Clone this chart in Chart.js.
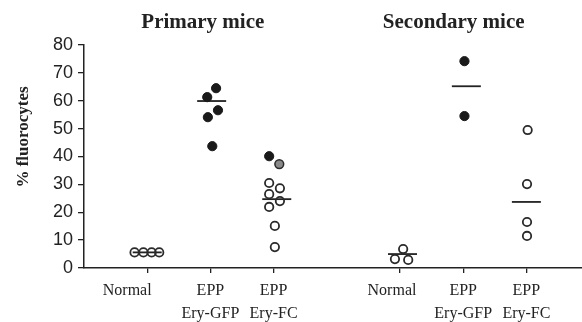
<!DOCTYPE html>
<html>
<head>
<meta charset="utf-8">
<script src="https://cdn.jsdelivr.net/npm/chart.js@4/dist/chart.umd.min.js"></script>
<style>
  html, body { margin:0; padding:0; background:#fff; }
  #wrap { width:582px; height:322px; position:relative; }
</style>
</head>
<body>
<div id="wrap"><canvas id="c"></canvas></div>
<script>
// ── Data (x in axis units: groups at 1,2,3 and 5,6,7) ─────────
const tickPos    = [1, 2, 3, 5, 6, 7];
const tickLabels = [['Normal'], ['EPP', 'Ery-GFP'], ['EPP', 'Ery-FC'],
                    ['Normal'], ['EPP', 'Ery-GFP'], ['EPP', 'Ery-FC']];
const panelTitles = ['Primary mice', 'Secondary mice'];
const panelCenter = [1.88, 5.85];

const filledX = [1.95, 2.09, 2.12, 1.96, 2.03, 2.93, 6.02, 6.02];
const filledY = [61.3, 64.5, 56.6, 54.1, 43.7, 40.1, 74.2, 54.5];

const grayX = [3.09];
const grayY = [37.3];

const openX = [0.80, 0.94, 1.07, 1.19,
               2.93, 3.10, 2.93, 3.10, 2.93, 3.02, 3.02,
               5.05, 4.92, 5.13,
               7.02, 7.01, 7.01, 7.01];
const openY = [5.6, 5.6, 5.6, 5.6,
               30.5, 28.6, 26.5, 24.0, 21.9, 15.1, 7.5,
               6.8, 3.2, 2.9,
               49.5, 30.1, 16.5, 11.5];

const meanX = [1.0, 2.02, 3.05, 5.04, 6.05, 7.0];
const meanY = [5.6, 59.9, 24.7, 5.0, 65.2, 23.7];

// label nudges in px (the figure's labels are not quite centred on ticks)
const labelNudge = [-20, 0, 0, -8, 0, 0];

const pts = (xs, ys) => xs.map((x, i) => ({ x, y: ys[i] }));

// ── Titles / y label drawn by hand, x labels nudged ──────────
const labelsPlugin = {
  id: 'labels',
  beforeDraw(chart) {
    const x = chart.scales.x;
    x.getLabelItems().forEach((it, i) => {
      if (it._nudged) return;
      it.options.translation[0] += labelNudge[i] || 0;
      it._nudged = true;
    });
  },
  afterDraw(chart) {
    const { ctx, scales: { x } } = chart;
    ctx.save();
    ctx.fillStyle = '#222';
    ctx.textAlign = 'center';
    ctx.textBaseline = 'middle';
    ctx.font = 'bold 21px "Liberation Serif", serif';
    panelTitles.forEach((t, i) => ctx.fillText(t, x.getPixelForValue(panelCenter[i]), 23));
    ctx.translate(24, 137);
    ctx.rotate(-Math.PI / 2);
    ctx.font = 'bold 17px "Liberation Serif", serif';
    ctx.fillText('% fluorocytes', 0, 0);
    ctx.restore();
  }
};

new Chart(document.getElementById('c'), {
  type: 'scatter',
  data: {
    datasets: [
      { data: pts(openX, openY), pointStyle: 'circle', radius: 4.2, borderWidth: 1.8,
        borderColor: '#2a2a2a', backgroundColor: 'rgba(255,255,255,0)' },
      { data: pts(grayX, grayY), pointStyle: 'circle', radius: 4.4, borderWidth: 1.5,
        borderColor: '#2a2a2a', backgroundColor: '#8a8a8a' },
      { data: pts(filledX, filledY), pointStyle: 'circle', radius: 4.6, borderWidth: 1,
        borderColor: '#1a1a1a', backgroundColor: '#1a1a1a' },
      { data: pts(meanX, meanY), pointStyle: 'line', radius: 14.5, borderWidth: 1.8,
        borderColor: '#222' },
    ]
  },
  options: {
    responsive: true, maintainAspectRatio: false, animation: false,
    layout: { autoPadding: false, padding: { top: 45, left: 0, right: 0, bottom: 0 } },
    plugins: { legend: { display: false }, tooltip: { enabled: false } },
    scales: {
      x: {
        type: 'linear', min: 0, max: 7.88,
        afterBuildTicks: s => { s.ticks = tickPos.map(v => ({ value: v })); },
        afterFit: s => { s.height = 54; s.paddingLeft = 0; s.paddingRight = 0; },
        grid: { drawOnChartArea: false, drawTicks: true, tickLength: 5, color: '#222', lineWidth: 1.3 },
        border: { display: true, color: '#222', width: 1.5 },
        ticks: {
          autoSkip: false, maxRotation: 0, padding: 6, color: '#222',
          font: { family: '"Liberation Serif", serif', size: 16, lineHeight: 1.45 },
          callback: (v) => tickLabels[tickPos.indexOf(v)] || ''
        }
      },
      y: {
        min: 0, max: 80,
        afterFit: s => { s.width = 84; },
        grid: { drawOnChartArea: false, drawTicks: true, tickLength: 6, color: '#222', lineWidth: 1.3 },
        border: { display: true, color: '#222', width: 1.5 },
        ticks: { stepSize: 10, padding: 5, color: '#222',
                 font: { family: '"Liberation Sans", Arial, sans-serif', size: 18 } }
      }
    }
  },
  plugins: [labelsPlugin]
});
</script>
</body>
</html>
